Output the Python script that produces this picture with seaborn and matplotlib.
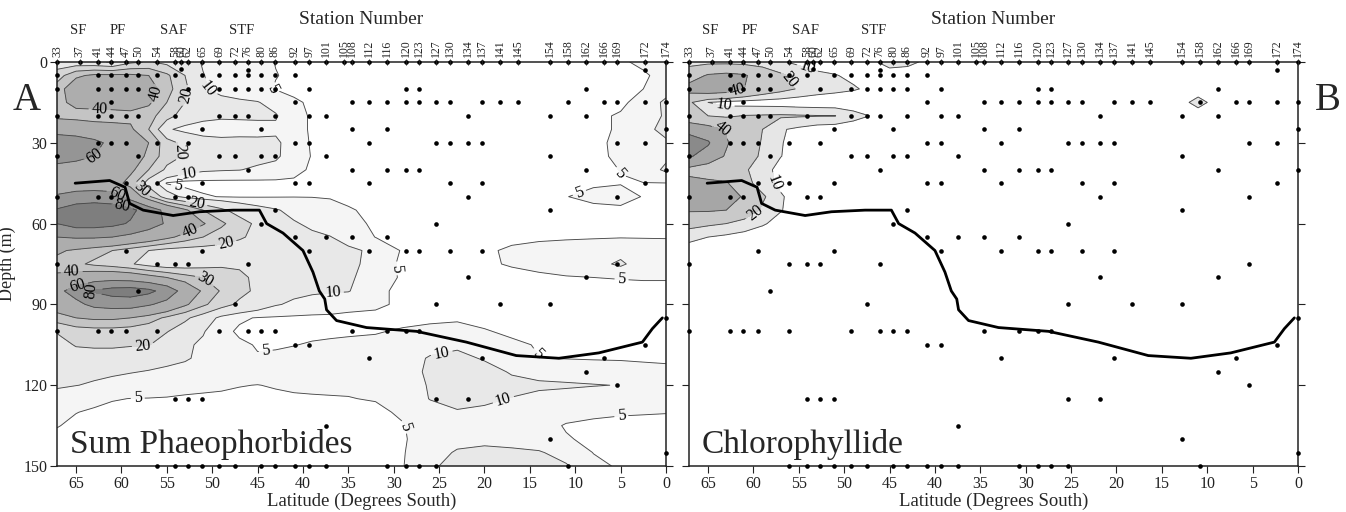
import numpy as np
import pandas as pd
import matplotlib
matplotlib.use("Agg")
import matplotlib.pyplot as plt
import seaborn as sns

sns.set_theme(style="ticks")
plt.rcParams['font.family'] = ['Liberation Serif', 'DejaVu Serif']

# ---------------- data ----------------
# Sum Phaeophorbides grid (rows = depth, columns = latitude)
pheo_lat = [67.1, 65, 63, 61, 59, 57, 55, 53, 51, 49, 47, 45, 43, 41, 39, 37, 35, 32, 29, 26, 23, 20, 17, 14, 11, 8, 5, 2.5, 0]
pheo_depth = [0, 5, 10, 15, 20, 25, 30, 35, 40, 45, 50, 55, 60, 65, 70, 75, 80, 85, 90, 95, 100, 105, 110, 115, 120, 125, 130, 135, 140, 145, 150]
pheo = [
    [14, 13, 12, 9, 18, 21, 17, 13, 9.5, 8, 7, 6, 4.9, 4, 3.5, 3, 2.5, 2, 2, 2, 2, 2, 2, 2, 2.5, 3, 4.6, 5.6, 7],
    [25, 38, 42, 42, 42, 40, 32, 20, 10.2, 8, 7, 6, 5.1, 4.5, 3.8, 3.2, 2.8, 2.5, 2, 2, 2, 2, 2, 2, 2.5, 3, 3.8, 4.6, 6],
    [35, 48, 52, 52, 50, 46, 34, 22, 10.5, 8.5, 7.5, 6, 4.8, 4.2, 3.5, 3, 2.8, 2.5, 2, 2, 2, 2, 2, 2, 2.5, 3, 3.8, 5, 8],
    [36, 44, 46, 46, 45, 42, 30, 20, 14, 11.5, 10.8, 10.3, 8, 5.5, 4.5, 3.8, 3.2, 2.8, 2.5, 2.5, 2.5, 2.5, 2.5, 2.5, 2.5, 3, 4, 7, 11],
    [36, 35, 34, 35, 37, 34, 24, 15, 12, 11, 11, 11, 10.5, 6.5, 4.5, 4.3, 3.5, 3, 2.5, 2.5, 2.5, 2.5, 2.5, 2.5, 3, 4, 5.5, 8, 10.5],
    [55, 52, 48, 45, 42, 30, 11, 8, 7, 7, 7.5, 8, 9, 6.5, 4.5, 4, 3.5, 3, 2.5, 2.5, 2.5, 2.5, 2.5, 2.5, 3, 4, 5.5, 8, 12],
    [68, 68, 64, 56, 48, 40, 24, 17, 13, 12, 12, 11.5, 11, 7.5, 4.5, 4.2, 3.5, 3, 2.5, 2.5, 2.5, 2.5, 2.5, 2.5, 3, 4, 6, 8, 9],
    [65, 64, 60, 52, 46, 38, 24, 19, 15, 14, 13, 12, 11, 7, 4.8, 4.3, 3.6, 3, 2.5, 2.5, 2.5, 2.5, 2.5, 2.5, 3, 4, 5.8, 7.5, 9],
    [56, 53, 50, 47, 43, 30, 18, 13, 11, 10.5, 10.2, 9, 8, 5.8, 4.6, 4, 3.8, 3, 2.5, 2.5, 2.5, 2.5, 2.5, 2.5, 3, 3.8, 5.1, 7, 11],
    [50, 48, 48, 47, 35, 15, 4.5, 3.5, 3.5, 3.5, 3.5, 3.8, 4, 4.5, 4.3, 4, 3.5, 3, 2.8, 2.8, 2.8, 2.8, 2.8, 2.8, 3, 4.5, 4.8, 4.9, 4.9],
    [62, 68, 70, 68, 52, 32, 14, 8, 5.5, 4.8, 4.6, 4.7, 4.8, 4.9, 4.9, 4.8, 4.5, 4, 3.5, 3, 3, 3, 3, 3.5, 4.9, 6, 6.5, 4.8, 4],
    [82, 90, 92, 90, 85, 70, 55, 42, 30, 22, 16, 12.5, 10.5, 8.5, 7, 6, 5.2, 4.5, 3.5, 3, 3, 3, 3, 3.2, 3.5, 4, 4.2, 4.2, 4],
    [80, 88, 88, 85, 78, 68, 58, 50, 41, 32, 24, 18, 13, 10.5, 9, 7.5, 5.8, 4.6, 4, 3.2, 3, 3, 3.2, 3.5, 3.8, 3.8, 4, 4, 4],
    [60, 62, 62, 60, 55, 50, 43, 36, 30, 25, 21, 18, 15, 12, 11, 10.2, 8, 4.9, 4, 3.5, 3.5, 3.8, 4.2, 4.5, 4.6, 4.7, 4.8, 4.8, 4.8],
    [42, 38, 34, 30, 25, 20, 16.5, 15.5, 15.5, 16, 16, 15, 14, 12.5, 12, 11.5, 11, 9, 4.5, 4, 4, 4.5, 5.5, 6, 6.5, 7, 8, 7, 6.5],
    [36, 32, 28, 25, 21, 16, 13, 14, 16, 18, 18.5, 16, 14, 13, 12.5, 12, 11.5, 8, 4, 3.8, 3.8, 4.5, 5.3, 5.8, 6.5, 8, 11, 7, 6],
    [42, 46, 50, 52, 50, 45, 40, 34, 30, 26, 22, 18, 15, 13, 12, 11.5, 11, 7, 4.5, 3.5, 3.5, 3.5, 4, 4.5, 4.8, 5, 5.2, 5.3, 5.3],
    [55, 68, 82, 88, 90, 85, 72, 52, 38, 29, 23, 18, 14, 11.5, 11, 10.5, 10.3, 6, 4, 3.5, 3.5, 3.5, 3.5, 3.5, 3.5, 3.5, 3.8, 4, 4],
    [48, 55, 65, 68, 68, 62, 54, 42, 32, 24, 18, 14, 10.5, 9, 7.5, 7, 6, 5.5, 4.5, 4, 3.8, 3.5, 3.5, 3.5, 3.5, 3.5, 3.5, 3.5, 3.5],
    [35, 40, 42, 42, 40, 35, 28, 22, 15, 8, 5.5, 4.8, 4.5, 4.3, 4.3, 4.3, 4.3, 4.3, 4.2, 4.2, 4.5, 4.2, 3.8, 3.5, 3.5, 3.5, 3.5, 3.5, 3.5],
    [21, 25, 26, 26, 25, 23, 20.5, 15, 10.5, 6, 4.5, 4, 4, 4, 4.2, 4.4, 4.6, 4.8, 5.3, 6, 6.2, 5.2, 4.5, 4.2, 4, 3.8, 3.5, 3.5, 3.5],
    [15, 21, 22, 22, 21, 20.5, 15, 11, 9, 7, 5.5, 4.8, 4.7, 4.9, 5.3, 5.5, 5.6, 5.7, 6.5, 8, 9, 8, 5.5, 4.8, 4.7, 4.6, 4.5, 4.5, 4.5],
    [13, 14, 14, 14, 13, 12.5, 11.5, 10.5, 9, 7, 6, 5.2, 5.5, 6, 6.5, 6.8, 7, 7, 7.5, 10.5, 11.5, 9.5, 6.5, 5.05, 4.9, 4.8, 4.8, 4.8, 4.8],
    [11.5, 11.5, 11, 10.8, 10.3, 9.7, 9, 8.5, 8, 7, 6.5, 6.3, 6.3, 6.5, 6.5, 6.5, 6.5, 6.5, 7.5, 11, 13, 12, 9.5, 8, 7, 6.5, 6, 5.5, 5.3],
    [10.5, 10.1, 9.5, 8.5, 7.5, 7, 6.5, 6, 5.7, 5.4, 5.1, 4.95, 5.2, 5.5, 5.6, 5.6, 5.5, 5.8, 7, 10.5, 13, 12.5, 11.5, 11, 10.8, 10.3, 9.8, 7, 6],
    [8.5, 7, 6, 5.2, 4.95, 4.9, 4.8, 4.6, 4.5, 4.5, 4.4, 4.4, 4.5, 4.6, 4.7, 4.8, 4.9, 5.2, 6.5, 10.2, 12, 11, 9.8, 8.5, 7.5, 6.5, 6, 5.5, 5.2],
    [6.5, 5.1, 4.5, 4.2, 4, 4, 4, 4, 4, 4, 4, 4, 4, 4, 4, 4, 4, 4.3, 5.5, 8, 9.5, 9, 8, 7, 6, 5.5, 5.2, 5.1, 5.05],
    [5.2, 4.2, 4, 3.8, 3.8, 3.8, 3.8, 3.8, 3.8, 3.8, 3.8, 3.8, 3.8, 3.8, 3.8, 3.8, 3.8, 4, 4.8, 7, 8, 8, 7.5, 6, 4.8, 4.5, 4.5, 4.6, 4.6],
    [4, 3.8, 3.6, 3.5, 3.5, 3.5, 3.5, 3.5, 3.5, 3.5, 3.5, 3.5, 3.5, 3.5, 3.5, 3.5, 3.5, 3.8, 4.6, 7, 8.5, 9, 8.5, 7, 5.2, 4.5, 4.5, 4.5, 4.5],
    [3.8, 3.6, 3.5, 3.5, 3.5, 3.5, 3.5, 3.5, 3.5, 3.5, 3.5, 3.5, 3.5, 3.5, 3.5, 3.5, 3.5, 3.8, 4.7, 8, 10.5, 11, 10.8, 10.5, 8, 4.9, 4.5, 4.5, 4.5],
    [3.8, 3.6, 3.5, 3.5, 3.5, 3.5, 3.5, 3.5, 3.5, 3.5, 3.5, 3.5, 3.5, 3.5, 3.5, 3.5, 3.5, 3.8, 4.8, 9, 12, 12.5, 12, 11.5, 10.5, 6, 4.5, 4.3, 4.3],
]

# Chlorophyllide grid
chl_lat = [67.1, 65, 63, 61, 59, 57, 55, 53, 51, 49, 47, 45, 43, 41, 39, 35, 14, 11, 8, 0]
chl_depth = [0, 5, 10, 15, 20, 25, 30, 35, 40, 45, 50, 55, 60, 65, 70, 80, 150]
chl = [
    [15, 16, 16, 15, 14, 11, 8, 6, 5, 5, 8, 14, 13, 8, 5, 3, 3, 3, 3, 3],
    [30, 42, 45, 42, 30, 22, 16, 12, 10.5, 8, 6, 5, 4, 3.5, 3, 3, 3, 3, 3, 3],
    [48, 55, 52, 40, 30, 24, 19, 15, 13, 11, 8, 6, 4, 3.5, 3, 3, 3, 7, 3, 3],
    [22, 10, 7, 6, 5.5, 5, 4, 3.5, 3, 3, 3, 3, 3, 3, 3, 3, 6, 12, 6, 3],
    [25, 20, 18, 20.5, 21, 21.5, 21, 20.5, 20.2, 14, 9.5, 6, 4, 3.5, 3, 3, 3, 7, 3, 3],
    [55, 48, 38, 28, 20, 11, 8, 5, 4, 3.5, 3, 3, 3, 3, 3, 3, 3, 3, 3, 3],
    [68, 62, 42, 28, 19, 10.5, 7, 5, 4, 3.5, 3, 3, 3, 3, 3, 3, 3, 3, 3, 3],
    [62, 52, 38, 26, 18, 10.2, 7, 5, 4, 3.5, 3, 3, 3, 3, 3, 3, 3, 3, 3, 3],
    [35, 30, 26, 22, 13, 7.5, 5, 4, 3.5, 3, 3, 3, 3, 3, 3, 3, 3, 3, 3, 3],
    [45, 44, 42, 25, 14, 8, 5, 4, 3.5, 3, 3, 3, 3, 3, 3, 3, 3, 3, 3, 3],
    [50, 50, 48, 38, 22, 11, 6, 4, 3.5, 3, 3, 3, 3, 3, 3, 3, 3, 3, 3, 3],
    [42, 42, 40, 28, 18, 10.5, 6, 4, 3.5, 3, 3, 3, 3, 3, 3, 3, 3, 3, 3, 3],
    [25, 22, 20, 16, 11, 7, 5, 4, 3.5, 3, 3, 3, 3, 3, 3, 3, 3, 3, 3, 3],
    [12, 10, 8, 6, 5, 4, 3.5, 3, 3, 3, 3, 3, 3, 3, 3, 3, 3, 3, 3, 3],
    [7, 5, 4, 3.5, 3, 3, 3, 3, 3, 3, 3, 3, 3, 3, 3, 3, 3, 3, 3, 3],
    [3, 3, 3, 3, 3, 3, 3, 3, 3, 3, 3, 3, 3, 3, 3, 3, 3, 3, 3, 3],
    [3, 3, 3, 3, 3, 3, 3, 3, 3, 3, 3, 3, 3, 3, 3, 3, 3, 3, 3, 3],
]

stations = [33, 37, 41, 44, 47, 50, 54, 58, 60, 62, 65, 69, 72, 76, 80, 86, 92, 97, 101,
            105, 108, 112, 116, 120, 123, 127, 130, 134, 137, 141, 145, 154, 158, 162, 166, 169, 172, 174]
station_lat = [67.1, 64.6, 62.55, 61.1, 59.5, 58.2, 56.1, 54.1, 53.4, 52.7, 51.1, 49.2, 47.5, 46.1, 44.6,
               43.1, 40.9, 39.3, 37.5, 35.5, 34.65, 32.7, 30.7, 28.6, 27.2, 25.3, 23.8, 21.8, 20.3, 18.3,
               16.3, 12.8, 10.8, 8.8, 6.8, 5.4, 2.3, 0.0]
sample_depths = [
    [0, 5, 10, 20, 35, 50, 75, 100], [0], [0, 5, 10, 20, 30, 50, 100], [0, 5, 10, 15, 20, 30, 50, 100],
    [0, 5, 10, 20, 30, 45, 70, 100], [0, 5, 10, 20, 35, 85], [0, 5, 30, 45, 75, 100, 150],
    [0, 5, 20, 50, 75, 125, 150], [0, 2.5], [0, 10, 30, 50, 75, 125, 150], [0, 5, 25, 45, 70, 125, 150],
    [0, 5, 10, 20, 35, 100, 150], [0, 5, 10, 20, 35, 90, 150], [0, 3, 5, 10, 20, 40, 75, 100],
    [0, 5, 10, 25, 35, 60, 100, 150], [0, 5, 10, 20, 35, 55, 100, 150], [0, 5, 15, 30, 45, 65, 105, 150],
    [0, 10, 20, 30, 45, 70, 105, 150], [0, 20, 35, 65, 135, 150], [0], [0, 15, 25, 40, 65, 100],
    [0, 15, 30, 45, 70, 110], [0, 15, 25, 40, 65, 100, 150], [0, 10, 15, 40, 70, 100, 150],
    [0, 10, 15, 40, 70, 100, 150], [0, 15, 30, 60, 90, 125, 150], [0, 15, 30, 45, 70],
    [0, 20, 30, 50, 80, 125], [0, 15, 30, 45, 70, 110], [0, 15, 90], [0, 15], [0, 20, 35, 55, 90, 140],
    [0, 15, 150], [0, 10, 20, 40, 80, 115], [0, 15, 110], [0, 15, 30, 50, 75, 120],
    [0, 3, 15, 30, 45, 105], [0, 15, 25, 40, 95, 145],
]

mld_lat = [65.1, 61.3, 59.6, 59.1, 57.6, 54.3, 51.4, 47.7, 44.8, 44.0, 42.2, 40.0, 38.9, 38.2, 37.6,
           37.4, 36.3, 33.0, 27.5, 22.0, 16.5, 11.8, 7.4, 2.6, 1.5, 0.4]
mld_depth = [45, 44, 46.5, 52.5, 55, 57, 55.6, 55, 55, 60, 63.5, 70, 78, 85, 88, 92, 96, 98.6, 100,
             104, 109, 110, 108, 104, 99, 95]

front_names = ['SF', 'PF', 'SAF', 'STF']
front_lat = [64.8, 60.4, 54.3, 46.8]

lat_ticks = [65, 60, 55, 50, 45, 40, 35, 30, 25, 20, 15, 10, 5, 0]
depth_ticks = [0, 30, 60, 90, 120, 150]

pheo_levels = [0, 5, 10, 20, 30, 40, 60, 80, 120]
pheo_colors = ['#ffffff', '#f5f5f5', '#e8e8e8', '#d6d6d6', '#c4c4c4', '#adadad', '#959595', '#7e7e7e']
pheo_lines = [5, 10, 20, 30, 40, 60, 80]
chl_levels = [0, 10, 20, 40, 60, 120]
chl_colors = ['#ffffff', '#e6e6e6', '#c9c9c9', '#a6a6a6', '#8a8a8a']
chl_lines = [10, 20, 40, 60]

# label anchor spots (layout) per contour level
pheo_label_spots = {
    5: [(44.4, 11.5), (53.8, 46.5), (44, 111), (58.2, 125), (15.6, 112), (27.9, 135),
        (30.8, 77), (4.9, 41), (9.6, 48), (4.9, 81), (4.9, 133)],
    10: [(51.5, 13), (52.5, 44), (36.7, 86), (24.6, 110), (17.6, 129)],
    20: [(53.5, 12), (53.2, 33), (51.7, 52), (48.3, 70), (57.7, 101)],
    30: [(58, 48), (50.6, 80)],
    40: [(56, 12), (62.4, 17), (52.5, 62), (65.5, 77)],
    60: [(62.4, 37), (60.5, 49), (65, 81)],
    80: [(59.8, 52), (64.5, 84)],
}
chl_label_spots = {
    10: [(54.5, 7), (63.6, 21.5), (58.5, 46)],
    20: [(56.5, 7.5), (60, 55)],
    40: [(61.8, 10), (63.4, 25)],
}

# ---------------- figure ----------------
samples = pd.DataFrame([(la, d) for la, ds in zip(station_lat, sample_depths) for d in ds],
                       columns=['lat', 'depth'])
mld = pd.DataFrame({'lat': mld_lat, 'depth': mld_depth})

fig = plt.figure(figsize=(13.46, 5.12), dpi=100)
axL = fig.add_axes([57 / 1346, 46 / 512, 609 / 1346, 404 / 512])
axR = fig.add_axes([689 / 1346, 46 / 512, 609 / 1346, 404 / 512])


def panel(ax, glat, gdep, Z, levels, colors, lines, spots, title, ylabels):
    Z = np.array(Z, dtype=float)
    ax.contourf(glat, gdep, Z, levels=levels, colors=colors)
    for lv in lines:
        cs = ax.contour(glat, gdep, Z, levels=[lv], colors='#4a4a4a', linewidths=0.65)
        pts = spots.get(lv, [])
        if pts and len(cs.allsegs[0]) > 0:
            ax.clabel(cs, manual=pts, inline=True, fmt='%d', fontsize=11.5,
                      colors='black', inline_spacing=3)
    sns.lineplot(data=mld, x='lat', y='depth', sort=False, estimator=None, color='black',
                 linewidth=2.0, ax=ax, zorder=6)
    sns.scatterplot(data=samples, x='lat', y='depth', color='black', s=11, linewidth=0,
                    ax=ax, zorder=7, clip_on=False)
    ax.set_xlim(67.1, 0)
    ax.set_ylim(150, 0)
    ax.set_xticks(lat_ticks)
    ax.set_xticklabels([str(t) for t in lat_ticks])
    ax.set_yticks(depth_ticks)
    ax.set_yticklabels([str(t) for t in depth_ticks])
    ax.tick_params(axis='x', direction='out', length=5, width=0.8, labelsize=11.5, pad=2, colors='#222222')
    ax.tick_params(axis='y', left=True, right=True, direction='out', length=5, width=0.8,
                   labelsize=11.5, pad=2, labelleft=ylabels, colors='#222222')
    ax.set_xlabel('Latitude (Degrees South)', fontsize=13.5, labelpad=1)
    if ylabels:
        ax.set_ylabel('Depth (m)', fontsize=13)
        ax.yaxis.set_label_coords(-0.068, 0.5)
    else:
        ax.set_ylabel('')
    for sp in ax.spines.values():
        sp.set_color('#222222')
        sp.set_linewidth(1.1)
    ax.text(0.021, 0.032, title, transform=ax.transAxes, fontsize=24, ha='left', va='baseline', zorder=8)

    top = ax.twiny()
    top.set_xlim(67.1, 0)
    top.set_xticks(station_lat)
    top.set_xticklabels([str(s) for s in stations], rotation=90)
    top.tick_params(axis='x', direction='inout', length=5, width=0.7, pad=1, labelsize=8.5, colors='#222222')
    for sp in top.spines.values():
        sp.set_visible(False)
    for nm, la in zip(front_names, front_lat):
        ax.text(la, 1.079, nm, transform=ax.get_xaxis_transform(), ha='center', va='center', fontsize=10.5)
    ax.text(0.5, 1.104, 'Station Number', transform=ax.transAxes, ha='center', va='center', fontsize=14)


panel(axL, pheo_lat, pheo_depth, pheo, pheo_levels, pheo_colors, pheo_lines, pheo_label_spots,
      'Sum Phaeophorbides', True)
panel(axR, chl_lat, chl_depth, chl, chl_levels, chl_colors, chl_lines, chl_label_spots,
      'Chlorophyllide', False)

fig.text(27 / 1346, 1 - 100 / 512, 'A', fontsize=28, ha='center', va='center')
fig.text(1328 / 1346, 1 - 100 / 512, 'B', fontsize=28, ha='center', va='center')

fig.savefig('out.png', dpi=100)
